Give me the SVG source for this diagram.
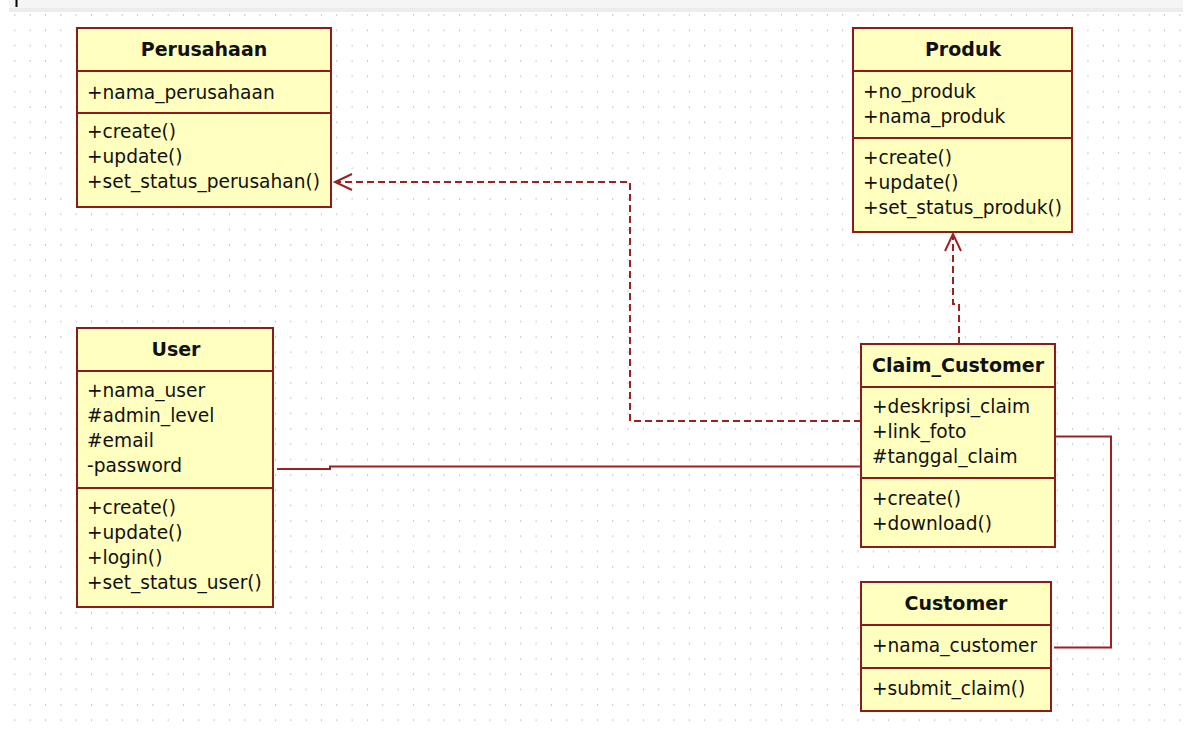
<svg xmlns="http://www.w3.org/2000/svg" width="1188" height="730" viewBox="0 0 1188 730">
  <defs>
    <pattern id="grid" x="0" y="14" width="15.33" height="15.33" patternUnits="userSpaceOnUse">
      <rect x="14.4" y="0" width="2" height="2" fill="#c4c4c4"/>
    </pattern>
    <marker id="openArrow" viewBox="-20 -11 22 22" refX="0" refY="0" markerWidth="22" markerHeight="22" markerUnits="userSpaceOnUse" orient="auto" overflow="visible">
      <path d="M-17,-8 L0,0 L-17,8" fill="none" stroke="#9c2222" stroke-width="2"/>
    </marker>
  </defs>
  <style>
    .box { fill: #ffffc0; stroke: #8c1c1c; stroke-width: 2; }
    .div { stroke: #8c1c1c; stroke-width: 2; }
    .title { font-family: "DejaVu Sans", Verdana, sans-serif; font-size: 19px; font-weight: bold; fill: #111; text-anchor: middle; }
    .item { font-family: "DejaVu Sans", Verdana, sans-serif; font-size: 18.6px; fill: #111; }
    .dep { fill: none; stroke: #9c2222; stroke-width: 2; stroke-dasharray: 7 4; }
    .assoc { fill: none; stroke: #9c2222; stroke-width: 2; }
  </style>
  <rect x="0" y="0" width="1188" height="730" fill="#ffffff"/>
  <rect x="9" y="0" width="1174" height="12" fill="#f5f5f5"/>
  <rect x="9" y="8" width="1174" height="4" fill="#ececec"/>
  <rect x="9" y="12" width="1174" height="714" fill="url(#grid)"/>
  <line x1="16.5" y1="0" x2="16.5" y2="7" stroke="#000" stroke-width="2"/>

  <g id="connectors">
    <path class="dep" d="M861,421 L630,421 L630,182 L335,182" marker-end="url(#openArrow)"/>
    <path class="dep" d="M959,344 L959,304 L953,304 L953,234" marker-end="url(#openArrow)"/>
    <path class="assoc" d="M277,469 L330,469 L330,466.5 L861,466.5"/>
    <path class="assoc" d="M1056,436.5 L1111,436.5 L1111,647.5 L1054,647.5"/>
  </g>

  <g id="Perusahaan">
    <rect class="box" x="77" y="28" width="254" height="179"/>
    <line class="div" x1="77" y1="71" x2="331" y2="71"/>
    <line class="div" x1="77" y1="113" x2="331" y2="113"/>
    <text class="title" x="204" y="56">Perusahaan</text>
    <text class="item" x="87" y="99">+nama_perusahaan</text>
    <text class="item" x="87" y="138">+create()</text>
    <text class="item" x="87" y="163">+update()</text>
    <text class="item" x="87" y="188">+set_status_perusahan()</text>
  </g>

  <g id="Produk">
    <rect class="box" x="853" y="28" width="219" height="204"/>
    <line class="div" x1="853" y1="71" x2="1072" y2="71"/>
    <line class="div" x1="853" y1="138" x2="1072" y2="138"/>
    <text class="title" x="963" y="56">Produk</text>
    <text class="item" x="863" y="98">+no_produk</text>
    <text class="item" x="863" y="123">+nama_produk</text>
    <text class="item" x="863" y="164">+create()</text>
    <text class="item" x="863" y="189">+update()</text>
    <text class="item" x="863" y="214">+set_status_produk()</text>
  </g>

  <g id="User">
    <rect class="box" x="77" y="328" width="196" height="279"/>
    <line class="div" x1="77" y1="371" x2="273" y2="371"/>
    <line class="div" x1="77" y1="488" x2="273" y2="488"/>
    <text class="title" x="176" y="356">User</text>
    <text class="item" x="87" y="397">+nama_user</text>
    <text class="item" x="87" y="422">#admin_level</text>
    <text class="item" x="87" y="447">#email</text>
    <text class="item" x="87" y="472">-password</text>
    <text class="item" x="87" y="514">+create()</text>
    <text class="item" x="87" y="539">+update()</text>
    <text class="item" x="87" y="564">+login()</text>
    <text class="item" x="87" y="589">+set_status_user()</text>
  </g>

  <g id="Claim_Customer">
    <rect class="box" x="861" y="344" width="194" height="203"/>
    <line class="div" x1="861" y1="387" x2="1055" y2="387"/>
    <line class="div" x1="861" y1="478" x2="1055" y2="478"/>
    <text class="title" x="958" y="372">Claim_Customer</text>
    <text class="item" x="872" y="413">+deskripsi_claim</text>
    <text class="item" x="872" y="438">+link_foto</text>
    <text class="item" x="872" y="463">#tanggal_claim</text>
    <text class="item" x="872" y="505">+create()</text>
    <text class="item" x="872" y="530">+download()</text>
  </g>

  <g id="Customer">
    <rect class="box" x="861" y="582" width="190" height="129"/>
    <line class="div" x1="861" y1="625" x2="1051" y2="625"/>
    <line class="div" x1="861" y1="668" x2="1051" y2="668"/>
    <text class="title" x="956" y="610">Customer</text>
    <text class="item" x="872" y="652">+nama_customer</text>
    <text class="item" x="872" y="695">+submit_claim()</text>
  </g>
</svg>
